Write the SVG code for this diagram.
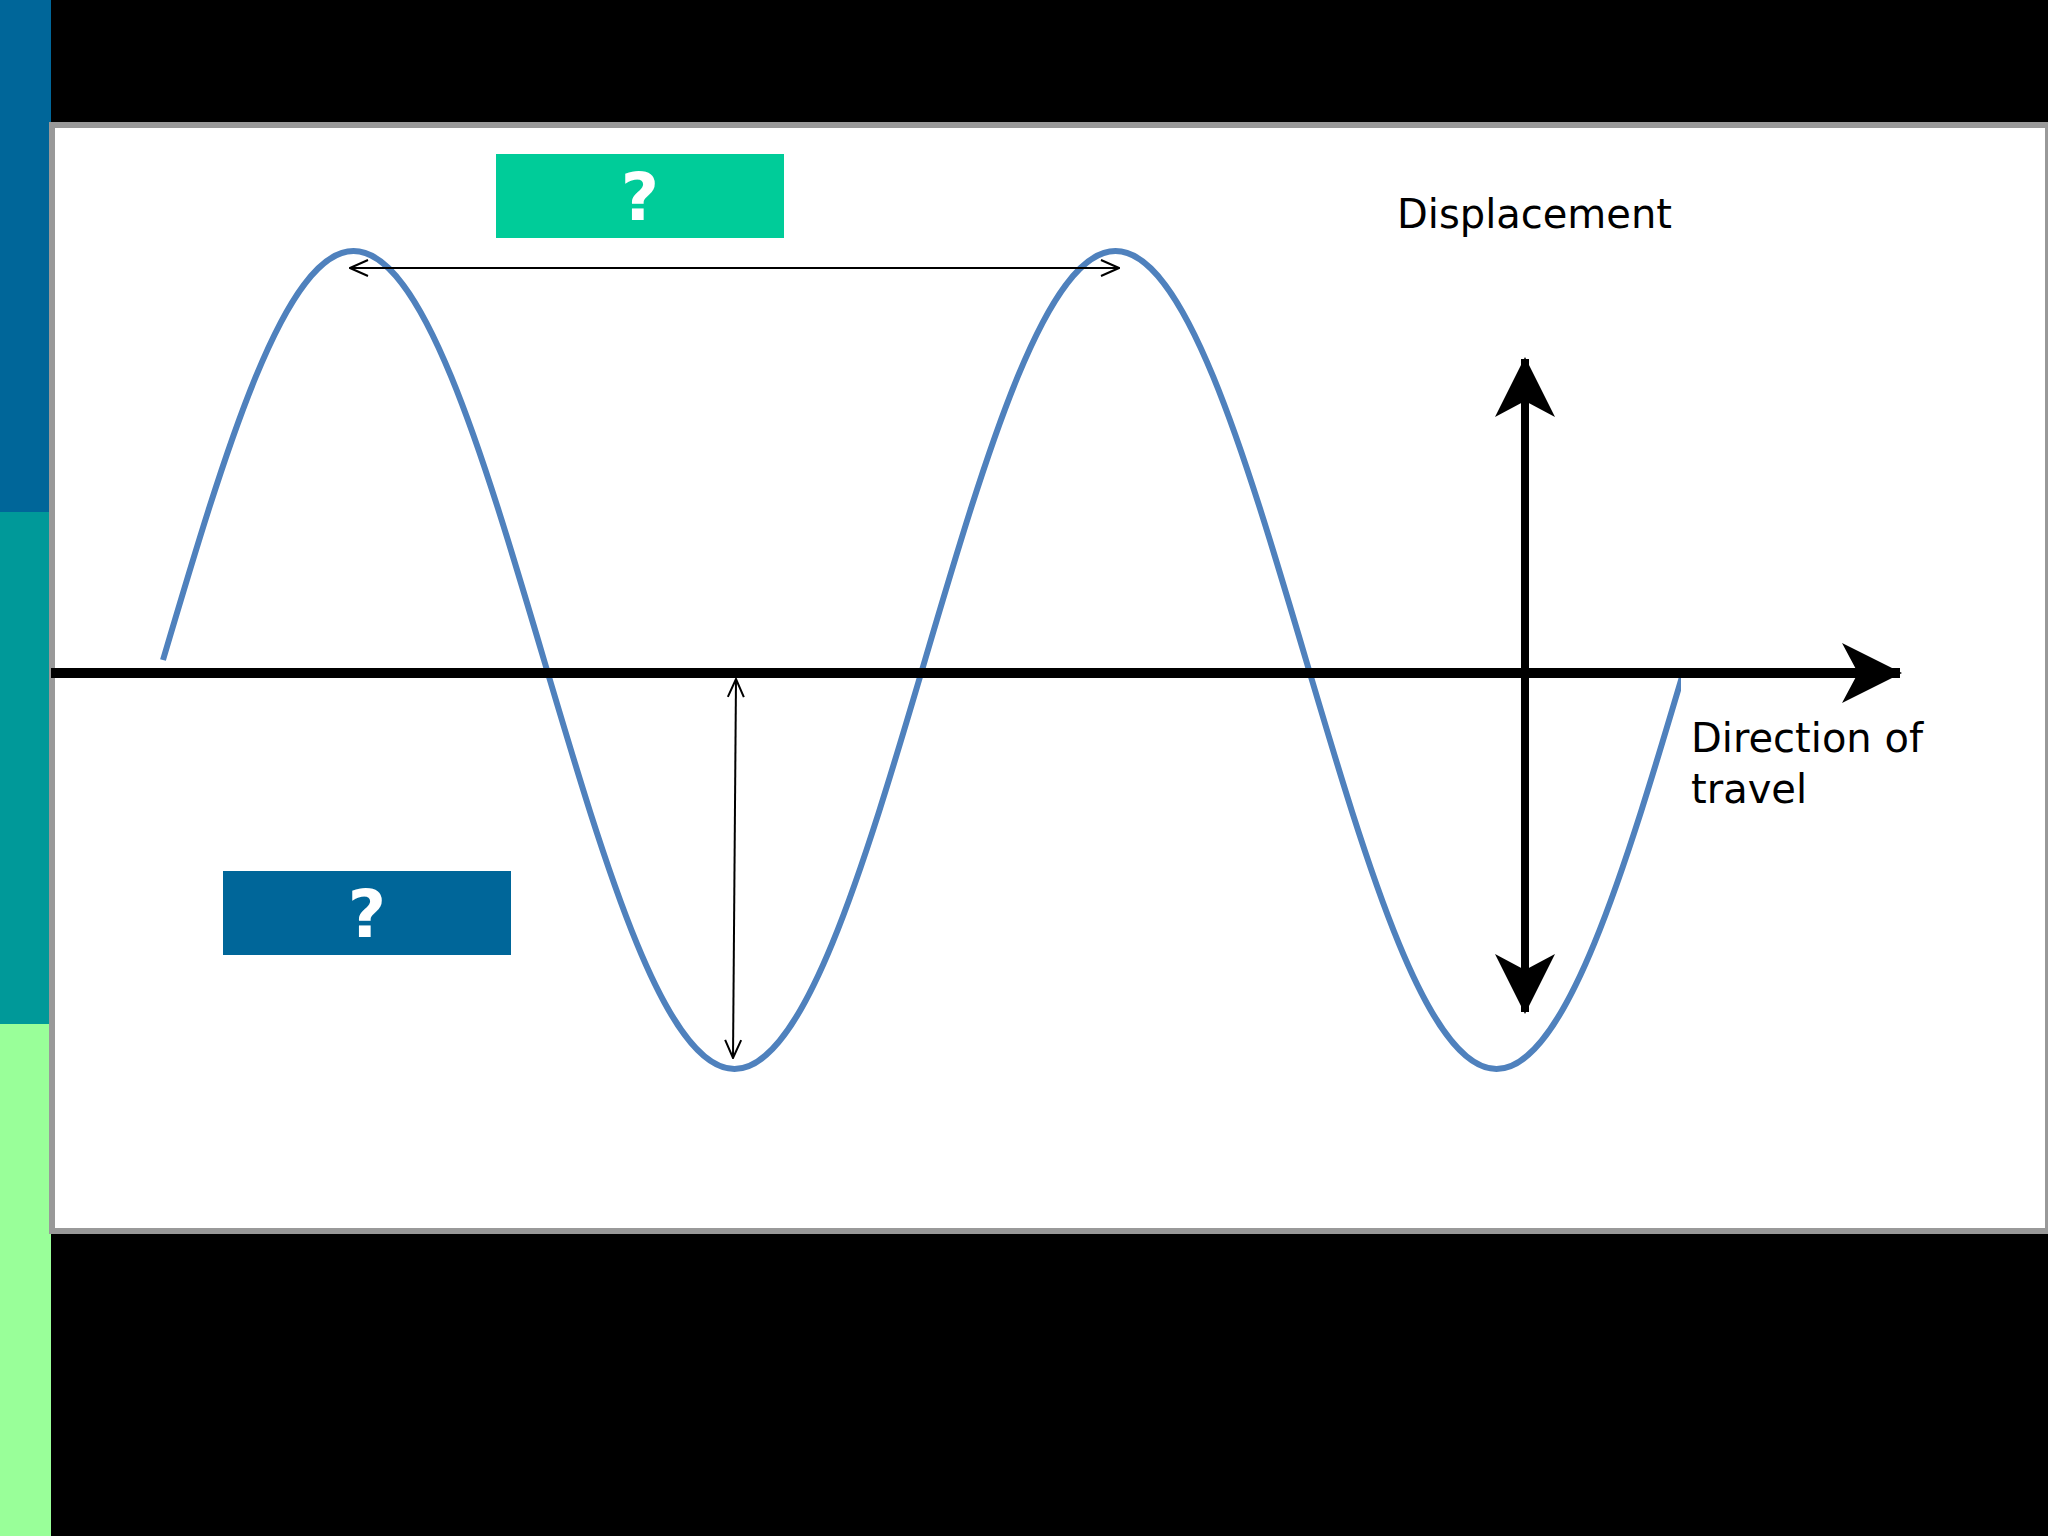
<svg xmlns="http://www.w3.org/2000/svg" width="2048" height="1536" viewBox="0 0 2048 1536">
<defs>
<marker id="open" viewBox="0 0 20 20" refX="19" refY="10" markerWidth="20" markerHeight="20" markerUnits="userSpaceOnUse" orient="auto-start-reverse"><path d="M1 2 L19 10 L1 18" fill="none" stroke="#000" stroke-width="2"/></marker>
<marker id="solid" viewBox="0 0 60 60" refX="58" refY="30" markerWidth="60" markerHeight="60" markerUnits="userSpaceOnUse" orient="auto-start-reverse"><path d="M0 0 L60 30 L0 60 L16 30 Z" fill="#000"/></marker>
<clipPath id="c"><rect x="0" y="0" width="1681" height="1536"/></clipPath>
</defs>
<style>
.q{font-family:"DejaVu Sans",sans-serif;font-weight:bold;font-size:66px;fill:#fff;text-anchor:middle}
.t{font-family:"DejaVu Sans",sans-serif;font-size:40px;fill:#000}
</style>
<rect width="2048" height="1536" fill="#000"/>
<rect x="0" y="0" width="51" height="512" fill="#006699"/>
<rect x="0" y="512" width="51" height="512" fill="#009999"/>
<rect x="0" y="1024" width="51" height="512" fill="#99ff99"/>
<rect x="52" y="125" width="1996" height="1106" fill="#fff" stroke="#999" stroke-width="6"/>
<g id="wave"><path clip-path="url(#c)" d="M163 660 C225.1 450.5 284.6 251 353.5 251 S481.9 450.5 544 660 S665.6 1069 734.5 1069 S863.1 869.5 925 660 S1046.6 251 1115.5 251 S1243.9 450.5 1306 660 S1427.6 1069 1496.5 1069 S1625.1 869.5 1687 660" fill="none" stroke="#4f81bd" stroke-width="6"/></g>
<g id="connectors">
<line x1="51" y1="673" x2="1900" y2="673" stroke="#000" stroke-width="10" marker-end="url(#solid)"/>
<line x1="350" y1="268" x2="1119" y2="268" stroke="#000" stroke-width="2" marker-start="url(#open)" marker-end="url(#open)"/>
<line x1="736" y1="679" x2="733" y2="1058" stroke="#000" stroke-width="2" marker-start="url(#open)" marker-end="url(#open)"/>
<line x1="1525" y1="359" x2="1525" y2="1012" stroke="#000" stroke-width="8" marker-start="url(#solid)" marker-end="url(#solid)"/>
</g>
<g id="displacement"><text class="t" x="1397" y="228">Displacement</text></g>
<g id="direction"><text class="t" x="1691" y="752">Direction of</text><text class="t" x="1691" y="803">travel</text></g>
<g id="box1"><rect x="496" y="154" width="288" height="84" fill="#00cc99"/><text class="q" x="640" y="220">?</text></g>
<g id="box2"><rect x="223" y="871" width="288" height="84" fill="#006699"/><text class="q" x="367" y="937">?</text></g>
</svg>
